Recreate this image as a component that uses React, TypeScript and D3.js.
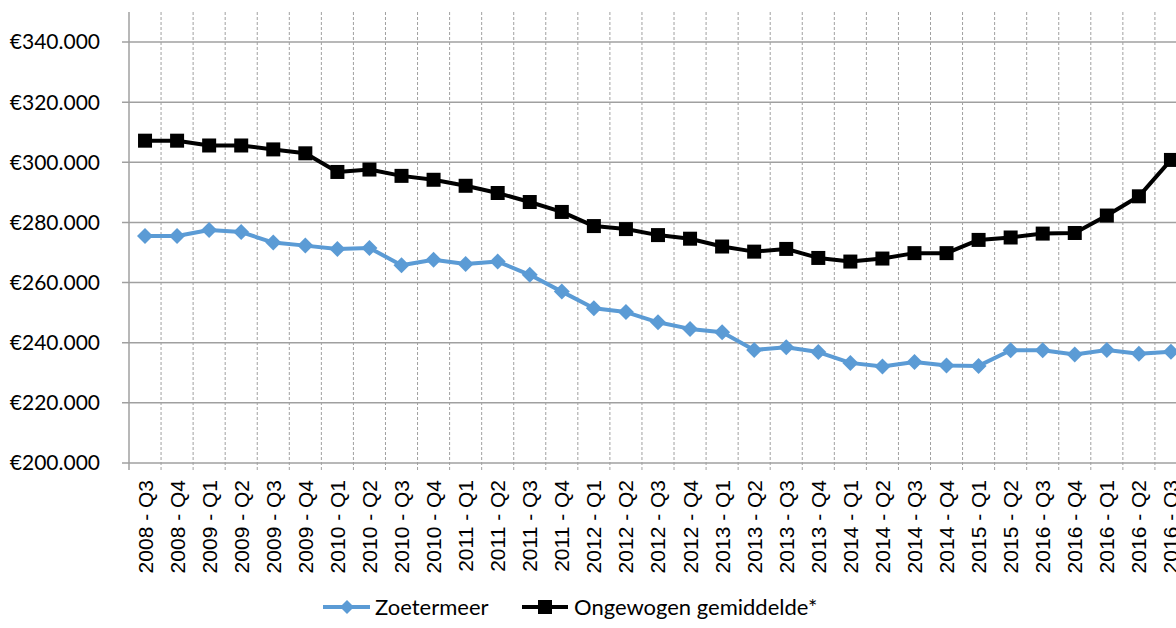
import React from "react";
import * as d3 from "d3";

const categories = [
  "2008 - Q3", "2008 - Q4", "2009 - Q1", "2009 - Q2", "2009 - Q3", "2009 - Q4",
  "2010 - Q1", "2010 - Q2", "2010 - Q3", "2010 - Q4", "2011 - Q1", "2011 - Q2",
  "2011 - Q3", "2011 - Q4", "2012 - Q1", "2012 - Q2", "2012 - Q3", "2012 - Q4",
  "2013 - Q1", "2013 - Q2", "2013 - Q3", "2013 - Q4", "2014 - Q1", "2014 - Q2",
  "2014 - Q3", "2014 - Q4", "2015 - Q1", "2015 - Q2", "2016 - Q3", "2016 - Q4",
  "2016 - Q1", "2016 - Q2", "2016 - Q3",
];

const zoetermeer = [
  275500, 275500, 277500, 276800, 273300, 272300, 271200, 271500, 265800, 267600,
  266200, 267000, 262600, 257000, 251500, 250200, 246800, 244600, 243500, 237600,
  238500, 236900, 233300, 232100, 233600, 232400, 232300, 237500, 237500, 236100,
  237600, 236300, 237000,
];

const ongewogen = [
  307200, 307200, 305600, 305600, 304300, 303000, 296800, 297600, 295500, 294200,
  292200, 289800, 286800, 283500, 278800, 277800, 275800, 274600, 272000, 270300,
  271200, 268200, 267000, 268000, 269800, 269800, 274200, 275000, 276300, 276500,
  282300, 288700, 300800,
];

const yTicks = [200000, 220000, 240000, 260000, 280000, 300000, 320000, 340000];

const seriesNames = ["Zoetermeer", "Ongewogen gemiddelde*"];

const W = 1176;
const H = 628;
const left = 129;
const step = 32.06;
const top = 12;
const bottom = 463;

export default function App() {
  const idx = categories.map((_, i) => String(i));
  const x = d3
    .scaleBand<string>()
    .domain(idx)
    .range([left, left + step * categories.length])
    .padding(0);
  const y = d3.scaleLinear().domain([200000, 350000]).range([bottom, top]);
  const cx = (i: number) => (x(String(i)) as number) + x.bandwidth() / 2;
  const fmt = (v: number) => "€" + d3.format(",")(v).replace(/,/g, ".");

  const line = d3
    .line<number>()
    .x((_, i) => cx(i))
    .y((d) => y(d));

  const blue = "#5b9bd5";
  const grid = "#a0a0a0";

  return (
    <svg
      width={W}
      height={H}
      style={{ position: "absolute", left: 0, top: 0, background: "#fff" }}
    >
      {categories.map((c, i) =>
        i === 0 ? null : (
          <line
            key={"v" + i}
            x1={x(String(i))}
            x2={x(String(i))}
            y1={top}
            y2={bottom + 7}
            stroke={grid}
            strokeWidth={1}
            strokeDasharray="3,2"
          />
        )
      )}
      {yTicks.map((t) => (
        <line
          key={"h" + t}
          x1={left - 7}
          x2={W}
          y1={y(t)}
          y2={y(t)}
          stroke={grid}
          strokeWidth={1.5}
        />
      ))}
      <line x1={left} x2={left} y1={top} y2={bottom + 7} stroke={grid} strokeWidth={1.5} />
      {yTicks.map((t) => (
        <text
          key={"yl" + t}
          x={100}
          y={y(t)}
          dy="0.35em"
          textAnchor="end"
          fontFamily="Lato, 'Open Sans', sans-serif"
          fontSize={21}
          fill="#000"
        >
          {fmt(t)}
        </text>
      ))}
      {categories.map((c, i) => (
        <text
          key={"xl" + i}
          transform={`translate(${cx(i) + 7.5},${480}) rotate(-90)`}
          textAnchor="end"
          fontFamily="'Liberation Sans', Arial, sans-serif"
          fontSize={21}
          fill="#000"
        >
          {c}
        </text>
      ))}
      <path d={line(zoetermeer) || ""} fill="none" stroke={blue} strokeWidth={4} strokeLinejoin="round" />
      {zoetermeer.map((v, i) => (
        <path
          key={"zd" + i}
          transform={`translate(${cx(i)},${y(v)})`}
          d="M0,-8 L8,0 L0,8 L-8,0 Z"
          fill={blue}
        />
      ))}
      <path d={line(ongewogen) || ""} fill="none" stroke="#000" strokeWidth={4} strokeLinejoin="round" />
      {ongewogen.map((v, i) => (
        <rect
          key={"os" + i}
          x={cx(i) - 7}
          y={y(v) - 7}
          width={14}
          height={14}
          fill="#000"
        />
      ))}
      <g>
        <line x1={323} x2={370} y1={607} y2={607} stroke={blue} strokeWidth={4} />
        <path transform="translate(347,607)" d="M0,-7 L7,0 L0,7 L-7,0 Z" fill={blue} />
        <text x={375} y={607} dy="0.35em" fontFamily="Lato, 'Open Sans', sans-serif" fontSize={22} fill="#000">
          {seriesNames[0]}
        </text>
        <line x1={522} x2={568} y1={607} y2={607} stroke="#000" strokeWidth={4} />
        <rect x={538} y={600} width={14} height={14} fill="#000" />
        <text x={574} y={607} dy="0.35em" fontFamily="Lato, 'Open Sans', sans-serif" fontSize={22} fill="#000">
          {seriesNames[1]}
        </text>
      </g>
    </svg>
  );
}
